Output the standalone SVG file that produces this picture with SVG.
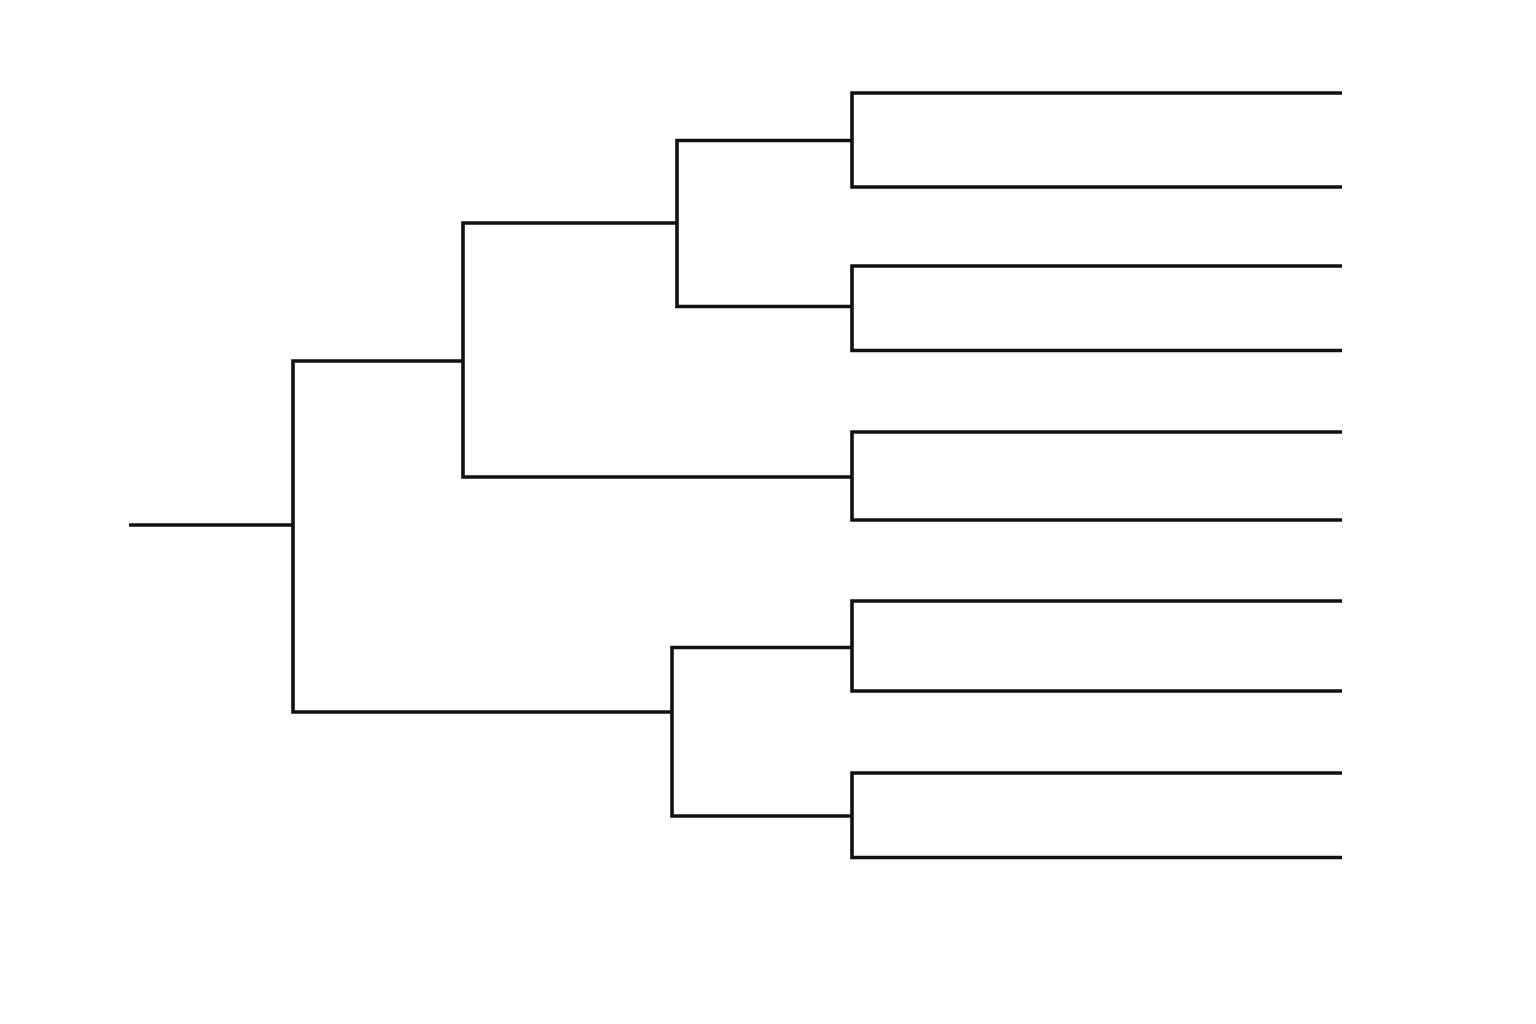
<svg xmlns="http://www.w3.org/2000/svg" width="1536" height="1024" viewBox="0 0 1536 1024">
<style>
.b{fill:none;stroke:#111;stroke-width:3.6;stroke-linecap:butt;stroke-linejoin:miter}
</style>
<rect width="1536" height="1024" fill="#fff"/>
<g id="connectors">
<path class="b" d="M129 525H293"/>
<path class="b" d="M463 361H293V712H672"/>
<path class="b" d="M677 223H463V477H852"/>
<path class="b" d="M852 140.5H677V306.5H852"/>
<path class="b" d="M1342 93H852V187H1342"/>
<path class="b" d="M1342 266H852V350.5H1342"/>
<path class="b" d="M1342 432H852V520H1342"/>
<path class="b" d="M852 647.5H672V816H852"/>
<path class="b" d="M1342 601H852V691H1342"/>
<path class="b" d="M1342 773H852V857.5H1342"/>
</g>
</svg>
